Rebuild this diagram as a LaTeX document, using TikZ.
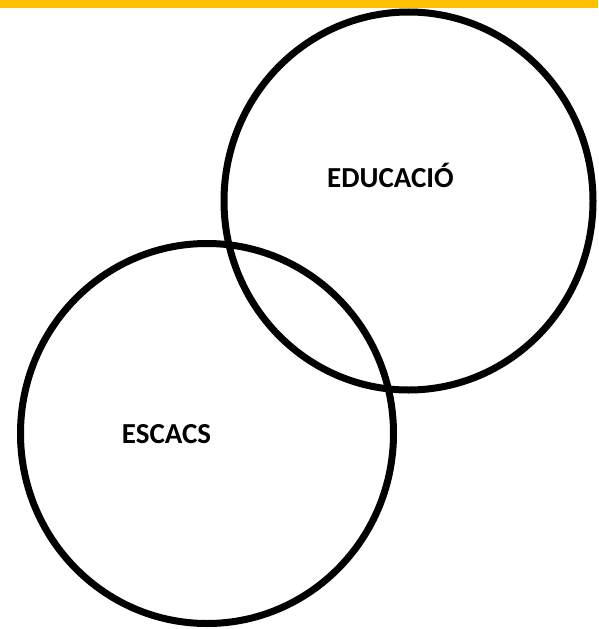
\documentclass[tikz,border=0pt]{standalone}
\usepackage{fontspec}
\setmainfont{Carlito}
\definecolor{barorange}{HTML}{FFC000}
\begin{document}
\begin{tikzpicture}[x=1pt,y=-1pt]
\useasboundingbox (0,0) rectangle (598,629);
\fill[barorange] (0,0) rectangle (598,8);

\draw[line width=7pt] (408.5,201) ellipse (184.5 and 189);
\node[anchor=base,font=\bfseries\fontsize{29}{34}\selectfont] (educacio) at (390.5,187.5) {EDUCACIÓ};

\draw[line width=7pt] (207,433.5) ellipse (186.5 and 190);
\node[anchor=base,font=\bfseries\fontsize{29}{34}\selectfont] (escacs) at (166.5,443) {ESCACS};
\end{tikzpicture}
\end{document}
